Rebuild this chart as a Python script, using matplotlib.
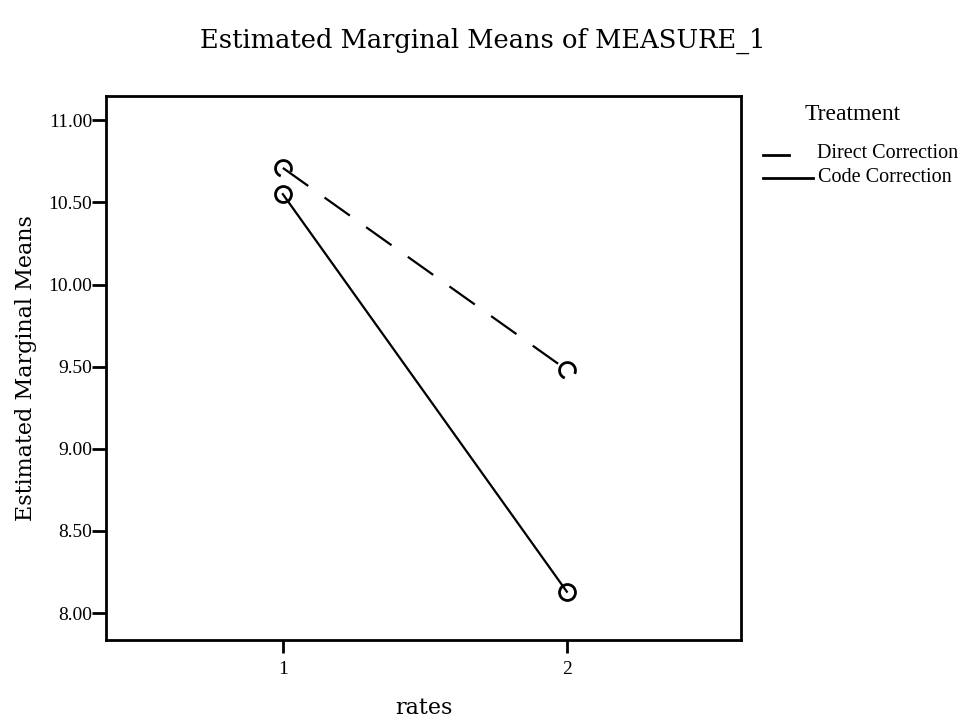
import numpy as np
import matplotlib.pyplot as plt
from matplotlib.path import Path
from matplotlib.lines import Line2D

# data
rates = [1, 2]
direct_correction = [10.71, 9.48]
code_correction = [10.55, 8.13]
yticks = [8.0, 8.5, 9.0, 9.5, 10.0, 10.5, 11.0]

serif = ['Liberation Serif', 'DejaVu Serif']
title_font = ['DejaVu Serif']

fig = plt.figure(figsize=(9.65, 7.22), dpi=100)
ax = fig.add_axes([0.1098, 0.1136, 0.658, 0.753])

# open arc marker for the dashed series
arc = Path.arc(-25, 250)

ax.plot(rates, direct_correction, color='black', lw=1.6, dashes=(14, 9),
        marker=arc, markersize=11.5, markerfacecolor='none', markeredgewidth=2.0)
ax.plot(rates, code_correction, color='black', lw=1.6,
        marker='o', markersize=11.5, markerfacecolor='none', markeredgewidth=2.0)

ax.set_xlim(0.377, 2.613)
ax.set_ylim(7.836, 11.146)
ax.set_xticks(rates)
ax.set_xticklabels([str(r) for r in rates], family=serif, fontsize=14)
ax.set_yticks(yticks)
ax.set_yticklabels(['%.2f' % v for v in yticks], family=serif, fontsize=14)
ax.tick_params(axis='y', direction='out', length=10, width=2, pad=0)
ax.tick_params(axis='x', direction='out', length=9, width=2, pad=6)
for s in ax.spines.values():
    s.set_linewidth(2)

ax.set_xlabel('rates', family=title_font, fontsize=16, labelpad=14)
ax.set_ylabel('Estimated Marginal Means', family=title_font, fontsize=16, labelpad=8)
fig.text(0.5, 0.944, 'Estimated Marginal Means of MEASURE_1', family=title_font,
         fontsize=18.5, ha='center', va='center')

# legend built by hand
fig.text(0.834, 0.841, 'Treatment', family=serif, fontsize=17,
         ha='left', va='center')
fig.add_artist(Line2D([0.791, 0.818], [0.786, 0.786], color='black', lw=2))
fig.text(0.847, 0.788, 'Direct Correction', family=serif, fontsize=14.5,
         va='center')
fig.add_artist(Line2D([0.791, 0.842], [0.753, 0.753], color='black', lw=2))
fig.text(0.848, 0.754, 'Code Correction', family=serif, fontsize=14.5,
         va='center')

fig.savefig('out.png', dpi=100)
